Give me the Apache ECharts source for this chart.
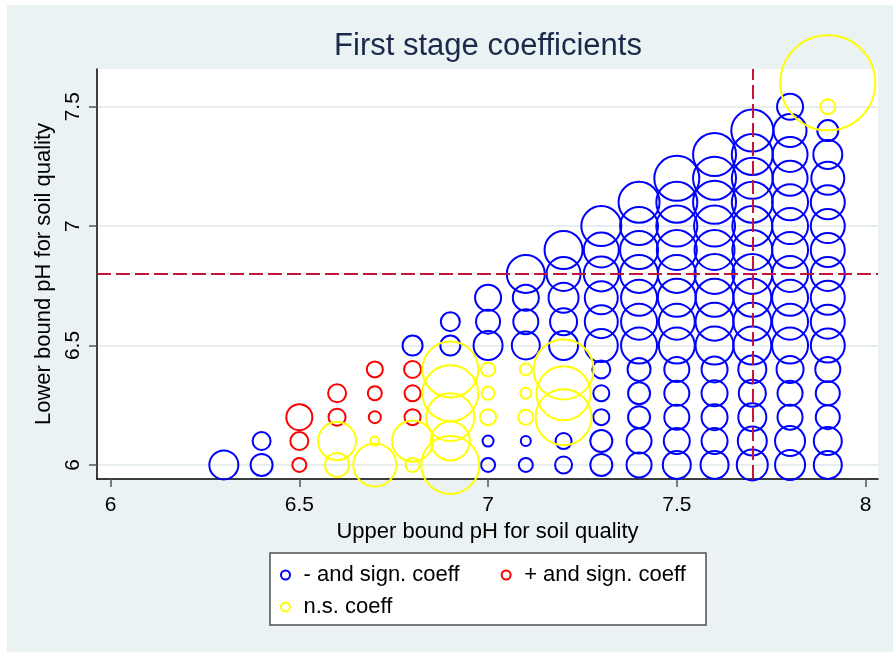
<!DOCTYPE html>
<html><head><meta charset="utf-8">
<script src="https://cdn.jsdelivr.net/npm/echarts@6/dist/echarts.min.js"></script>
<style>
html,body{margin:0;padding:0;background:#fff;width:893px;height:652px;overflow:hidden}
#c{position:absolute;left:7px;top:5px;width:886px;height:647px}
</style></head>
<body><div id="c"></div>
<script>
// ---- data ----
const upperBounds = [6.3, 6.4, 6.5, 6.6, 6.7, 6.8, 6.9, 7.0, 7.1, 7.2, 7.3, 7.4, 7.5, 7.6, 7.7, 7.8, 7.9];
const lowerStart = 6.0;
const lowerStep = 0.1;
// coefficient magnitude per cell, listed from lower bound 6.0 upward, one list per upper bound
const magnitudes = [
  [3.1],
  [2.4, 2.0],
  [1.6, 2.0, 2.8],
  [2.6, 4.0, 1.9, 2.0],
  [4.5, 1.1, 1.4, 1.6, 1.8],
  [1.6, 4.3, 1.8, 1.8, 1.9, 2.2],
  [6.0, 4.1, 5.0, 5.8, 5.8, 2.2, 2.1],
  [1.6, 1.3, 1.8, 1.5, 1.6, 3.1, 2.6, 2.8],
  [1.6, 1.2, 1.7, 1.3, 1.4, 3.0, 2.7, 2.8, 4.0],
  [1.9, 1.8, 5.8, 5.6, 6.2, 3.1, 2.9, 3.2, 3.6, 4.0],
  [2.4, 2.4, 1.8, 1.8, 2.0, 3.5, 3.5, 3.5, 3.7, 3.7, 4.2],
  [2.7, 2.7, 2.4, 2.4, 2.5, 3.8, 3.8, 3.8, 4.0, 4.0, 4.0, 4.3],
  [3.0, 2.8, 2.7, 2.7, 2.7, 3.8, 3.8, 4.0, 4.0, 4.2, 4.3, 4.3, 4.7],
  [3.0, 2.8, 2.8, 2.8, 2.8, 4.0, 4.0, 4.0, 4.2, 4.2, 4.3, 4.5, 4.5, 4.5],
  [3.3, 3.1, 3.0, 2.9, 3.0, 4.0, 4.0, 4.0, 4.2, 4.2, 4.2, 4.3, 4.3, 4.3, 4.4],
  [3.2, 3.2, 2.7, 2.7, 2.9, 3.8, 3.8, 3.8, 3.8, 3.8, 3.8, 3.8, 3.7, 3.7, 3.5, 2.8],
  [3.0, 3.0, 2.6, 2.6, 2.7, 3.6, 3.6, 3.6, 3.6, 3.6, 3.6, 3.6, 3.5, 3.1, 2.3, 1.7, 9.7]
];
// N = negative & significant, P = positive & significant, S = not significant
const significance = [
  "N", "NN", "PPP", "SSPP", "SSPPP", "SSPPPN", "SSSSSNN",
  "NNSSSNNN", "NNSSSNNNN", "NNSSSNNNNN",
  "NNNNNNNNNNN", "NNNNNNNNNNNN", "NNNNNNNNNNNNN", "NNNNNNNNNNNNNN",
  "NNNNNNNNNNNNNNN", "NNNNNNNNNNNNNNNN", "NNNNNNNNNNNNNNNSS"
];
const groupKeys = ["N", "P", "S"];
const groupNames = ["- and sign. coeff", "+ and sign. coeff", "n.s. coeff"];
const groupColors = ["#0000FF", "#FF0000", "#FFFF00"];
const xTicks = [6, 6.5, 7, 7.5, 8];
const yTicks = [6, 6.5, 7, 7.5];
const refUpper = 7.7;
const refLower = 6.8;
const titleText = "First stage coefficients";
const xTitle = "Upper bound pH for soil quality";
const yTitle = "Lower bound pH for soil quality";

// ---- build ----
const groupData = groupKeys.map(() => []);
upperBounds.forEach((u, i) => {
  magnitudes[i].forEach((m, j) => {
    const lower = +(lowerStart + j * lowerStep).toFixed(1);
    const g = groupKeys.indexOf(significance[i][j]);
    groupData[g].push([u, lower, m]);
  });
});

const FONT = "'Liberation Sans', Arial, sans-serif";
const series = groupKeys.map((k, g) => ({
  name: groupNames[g],
  type: 'scatter',
  data: groupData[g],
  clip: false,
  symbol: 'circle',
  symbolSize: v => v[2] * 10 - 2,
  itemStyle: { color: 'rgba(0,0,0,0)', borderColor: groupColors[g], borderWidth: 2, opacity: 1 },
  emphasis: { disabled: true },
  z: 3 + g
}));
series.push({
  type: 'scatter', data: [], silent: true, z: 10,
  markLine: {
    silent: true, symbol: 'none', animation: false,
    label: { show: false },
    lineStyle: { color: '#C4163A', width: 2, type: [14, 5] },
    data: [{ xAxis: refUpper }, { yAxis: refLower }]
  }
});

const chart = echarts.init(document.getElementById('c'), null, { renderer: 'canvas' });
chart.setOption({
  animation: false,
  backgroundColor: '#EAF2F3',
  grid: { left: 90, top: 64, right: 15, bottom: 173, show: true, backgroundColor: '#FFFFFF', borderWidth: 0 },
  graphic: [
    { type: 'text', x: 481, y: 41, style: { text: titleText, font: "31px " + FONT, fill: '#1B2A4A', align: 'center', verticalAlign: 'middle' } },
    { type: 'rect', shape: { x: 263, y: 548, width: 436, height: 72 }, style: { fill: '#FFFFFF', stroke: '#505050', lineWidth: 1.5 }, z: 0 }
  ],
  xAxis: {
    type: 'value', min: 5.964, max: 8.033,
    name: xTitle, nameLocation: 'middle', nameGap: 36,
    nameTextStyle: { fontSize: 22, color: '#000', fontFamily: FONT },
    axisLine: { show: true, onZero: false, lineStyle: { color: '#000', width: 1.5 } },
    axisTick: { show: true, length: 8, customValues: xTicks, lineStyle: { color: '#555', width: 1.5 } },
    axisLabel: { customValues: xTicks, margin: 16, fontSize: 21, color: '#000', fontFamily: FONT },
    splitLine: { show: false }
  },
  yAxis: {
    type: 'value', min: 5.941, max: 7.658,
    name: yTitle, nameLocation: 'middle', nameGap: 40, nameRotate: 90,
    nameTextStyle: { fontSize: 22, color: '#000', fontFamily: FONT },
    axisLine: { show: true, onZero: false, lineStyle: { color: '#000', width: 1.5 } },
    axisTick: { show: true, length: 8, customValues: yTicks, lineStyle: { color: '#555', width: 1.5 } },
    axisLabel: { customValues: yTicks, rotate: 90, margin: 13, fontSize: 21, color: '#000', fontFamily: FONT },
    splitLine: { show: true, lineStyle: { color: '#E6EEF0', width: 2 } }
  },
  legend: [
    {
      data: [groupNames[0], groupNames[1]], left: 273, top: 559, padding: 0,
      itemWidth: 26, itemHeight: 9, itemGap: 41, icon: 'circle',
      textStyle: { fontSize: 22, color: '#000', fontFamily: FONT },
      selectedMode: false, z: 5
    },
    {
      data: [groupNames[2]], left: 273, top: 591, padding: 0,
      itemWidth: 26, itemHeight: 9, icon: 'circle',
      textStyle: { fontSize: 22, color: '#000', fontFamily: FONT },
      selectedMode: false, z: 5
    }
  ],
  series: series
});
</script></body></html>
